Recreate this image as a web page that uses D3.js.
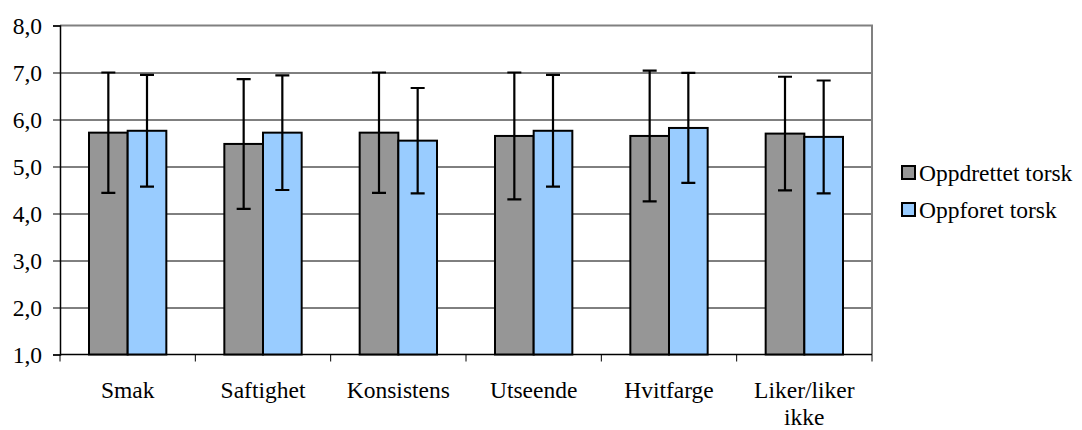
<!DOCTYPE html>
<html>
<head>
<meta charset="utf-8">
<script src="https://cdn.jsdelivr.net/npm/d3@7"></script>
<style>
  body { margin: 0; background: #fff; }
  svg, svg text { font-family: "Liberation Serif", "Times New Roman", "DejaVu Serif", serif; }
</style>
</head>
<body>
<div id="chart"></div>
<script>
const categories = ["Smak", "Saftighet", "Konsistens", "Utseende", "Hvitfarge", "Liker/liker ikke"];
const seriesNames = ["Oppdrettet torsk", "Oppforet torsk"];
const seriesColors = ["#969696", "#99ccff"];
const oppdrettet = [5.72, 5.48, 5.72, 5.65, 5.65, 5.70];
const oppdrettetErr = [1.28, 1.38, 1.28, 1.35, 1.39, 1.21];
const oppforet = [5.76, 5.72, 5.55, 5.76, 5.82, 5.63];
const oppforetErr = [1.19, 1.22, 1.12, 1.19, 1.17, 1.20];
const yTicks = [1, 2, 3, 4, 5, 6, 7, 8];

const FONT = '"Liberation Serif", "Times New Roman", "DejaVu Serif", serif';

const W = 1082, H = 430;
const margin = { top: 25.5, right: 210, bottom: 75.5, left: 60 };
const width = W - margin.left - margin.right,
      height = H - margin.top - margin.bottom;

const rows = categories.map((c, i) => ({
  cat: c,
  vals: [
    { s: 0, v: oppdrettet[i], e: oppdrettetErr[i] },
    { s: 1, v: oppforet[i], e: oppforetErr[i] }
  ]
}));

const svg = d3.select("#chart")
  .append("svg")
    .attr("width", W)
    .attr("height", H)
  .append("g")
    .attr("transform", `translate(${margin.left},${margin.top})`);

// scales
const x0 = d3.scaleBand()
  .domain(categories)
  .range([0, width])
  .paddingInner(0)
  .paddingOuter(0);

const x1 = d3.scaleBand()
  .domain([0, 1])
  .range([0, x0.bandwidth()])
  .paddingInner(0)
  .paddingOuter(0.75);

const y = d3.scaleLinear()
  .domain([1, 8])
  .range([height, 0]);

const fmt = d => d.toFixed(1).replace(".", ",");

// gridlines
svg.append("g")
  .selectAll("line")
  .data(yTicks.slice(1, -1))
  .enter()
  .append("line")
    .attr("x1", 0)
    .attr("x2", width)
    .attr("y1", d => Math.round(y(d)) + 0.5)
    .attr("y2", d => Math.round(y(d)) + 0.5)
    .attr("stroke", "#000")
    .attr("stroke-width", 1);

// plot area border (top/right gray)
svg.append("path")
  .attr("d", `M0,${y(8)}H${width}V${height}`)
  .attr("fill", "none")
  .attr("stroke", "#808080")
  .attr("stroke-width", 2);

// Y axis
svg.append("g")
  .call(d3.axisLeft(y).tickValues(yTicks).tickSize(7).tickPadding(11).tickFormat(fmt))
  .attr("font-family", FONT)
  .attr("font-size", "23.5px")
  .call(g => g.selectAll("line").attr("stroke", "#000"))
  .call(g => g.select(".domain").attr("stroke", "#000").attr("stroke-width", 1.5))
  .call(g => g.selectAll("text")
    .attr("fill", "#000")
    .style("font-family", FONT)
    .style("font-size", "23.5px"));

// X axis (ticks between categories)
const xg = svg.append("g")
  .attr("transform", `translate(0,${height})`);
xg.append("line")
  .attr("x1", 0).attr("x2", width)
  .attr("stroke", "#000").attr("stroke-width", 1.5);
xg.selectAll("line.tick")
  .data(d3.range(categories.length + 1))
  .enter()
  .append("line")
    .attr("class", "tick")
    .attr("x1", i => i < categories.length ? x0(categories[i]) : width)
    .attr("x2", i => i < categories.length ? x0(categories[i]) : width)
    .attr("y1", 0)
    .attr("y2", 7)
    .attr("stroke", "#000");

// category labels
xg.selectAll("text")
  .data(categories)
  .enter()
  .append("text")
    .attr("x", d => x0(d) + x0.bandwidth() / 2)
    .attr("y", 43)
    .attr("text-anchor", "middle")
    .style("font-family", FONT)
    .style("font-size", "23.5px")
    .attr("fill", "#000")
    .each(function(d) {
      const t = d3.select(this);
      const parts = d === "Liker/liker ikke" ? ["Liker/liker", "ikke"] : [d];
      parts.forEach((p, i) => {
        t.append("tspan")
          .attr("x", x0(d) + x0.bandwidth() / 2)
          .attr("dy", i === 0 ? 0 : 27)
          .text(p);
      });
    });

// bars
const groups = svg.selectAll("g.cat")
  .data(rows)
  .enter()
  .append("g")
    .attr("class", "cat")
    .attr("transform", d => `translate(${x0(d.cat)},0)`);

groups.selectAll("rect")
  .data(d => d.vals)
  .enter()
  .append("rect")
    .attr("x", d => x1(d.s))
    .attr("y", d => y(d.v))
    .attr("width", x1.bandwidth())
    .attr("height", d => height - y(d.v))
    .attr("fill", d => seriesColors[d.s])
    .attr("stroke", "#000")
    .attr("stroke-width", 2);

// error bars
const capW = 7;
groups.selectAll("path.err")
  .data(d => d.vals)
  .enter()
  .append("path")
    .attr("class", "err")
    .attr("d", d => {
      const cx = x1(d.s) + x1.bandwidth() / 2;
      const t = y(d.v + d.e), b = y(d.v - d.e);
      return `M${cx},${t}V${b}M${cx - capW},${t}H${cx + capW}M${cx - capW},${b}H${cx + capW}`;
    })
    .attr("fill", "none")
    .attr("stroke", "#000")
    .attr("stroke-width", 2.2);

// legend
const legend = d3.select("#chart svg").append("g")
  .attr("transform", "translate(902,166)");

const li = legend.selectAll("g")
  .data(seriesNames)
  .enter()
  .append("g")
    .attr("transform", (d, i) => `translate(0,${i * 37})`);

li.append("rect")
  .attr("width", 13)
  .attr("height", 13)
  .attr("fill", (d, i) => seriesColors[i])
  .attr("stroke", "#000")
  .attr("stroke-width", 2);

li.append("text")
  .attr("x", 17)
  .attr("y", 15)
  .style("font-family", FONT)
  .style("font-size", "23.5px")
  .attr("fill", "#000")
  .text(d => d);
</script>
</body>
</html>
